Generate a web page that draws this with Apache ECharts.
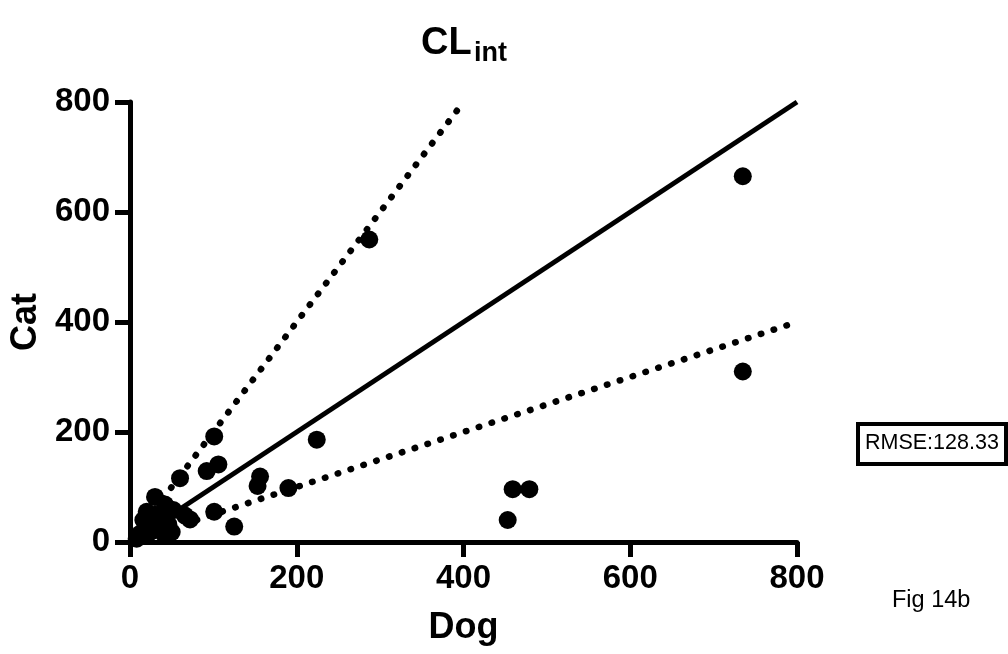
<!DOCTYPE html>
<html>
<head>
<meta charset="utf-8">
<script src="https://cdn.jsdelivr.net/npm/echarts@6/dist/echarts.min.js"></script>
<style>
html,body{margin:0;padding:0;background:#fff;}
#chart{width:1008px;height:654px;}
</style>
</head>
<body>
<div id="chart"></div>
<script>
const dogValues = [735, 735, 287, 224, 459, 479, 453, 190, 156, 153, 125, 101, 101, 106, 92, 60,
  30, 42, 20, 16, 36, 24, 12, 40, 50, 66, 72, 52, 8, 28, 46];
const catValues = [665, 310, 550, 186, 96, 96, 40, 98, 119, 102, 28, 55, 192, 141, 129, 116,
  82, 68, 55, 40, 46, 18, 15, 16, 18, 48, 41, 58, 6, 30, 32];
const xTicks = [0, 200, 400, 600, 800];
const yTicks = [0, 200, 400, 600, 800];
const upperLineDog = [20, 400];
const upperLineCat = [40, 800];
const midLineDog = [40, 800];
const midLineCat = [40, 800];
const lowerLineDog = [80, 800];
const lowerLineCat = [40, 400];
const titleMain = 'CL';
const titleSub = 'int';
const xName = 'Dog';
const yName = 'Cat';
const rmseText = 'RMSE:128.33';
const figText = 'Fig 14b';

const FONT = "'Liberation Sans', Arial, Helvetica, sans-serif";
const pairs = (xs, ys) => xs.map((x, i) => [x, ys[i]]);

const chart = echarts.init(document.getElementById('chart'), null, {renderer: 'canvas'});
const axisCommon = {
  type: 'value', min: xTicks[0], max: xTicks[xTicks.length - 1], interval: xTicks[1] - xTicks[0],
  axisLine: {show: true, lineStyle: {color: '#000', width: 5}},
  axisTick: {show: true, length: 15, lineStyle: {color: '#000', width: 5}},
  splitLine: {show: false},
  axisLabel: {color: '#000', fontSize: 33, fontWeight: 'bold', fontFamily: FONT},
  nameTextStyle: {color: '#000', fontSize: 36, fontWeight: 'bold', fontFamily: FONT}
};
const dotted = {color: '#000', width: 6.5, type: [0.5, 13], cap: 'round'};
chart.setOption({
  animation: false,
  backgroundColor: '#fff',
  title: [
    {text: titleMain, left: 416, top: 20, textStyle: {fontSize: 38, fontWeight: 'bold', color: '#000', fontFamily: FONT}},
    {text: titleSub, left: 469, top: 35, textStyle: {fontSize: 27, fontWeight: 'bold', color: '#000', fontFamily: FONT}}
  ],
  grid: {left: 130, right: 211, top: 102, bottom: 112, containLabel: false},
  xAxis: Object.assign({}, axisCommon, {
    name: xName, nameLocation: 'middle', nameGap: 68,
    axisLabel: Object.assign({}, axisCommon.axisLabel, {margin: 20})
  }),
  yAxis: Object.assign({}, axisCommon, {
    min: yTicks[0], max: yTicks[yTicks.length - 1], interval: yTicks[1] - yTicks[0],
    name: yName, nameLocation: 'middle', nameGap: 80, nameRotate: 90,
    axisLabel: Object.assign({}, axisCommon.axisLabel, {margin: 20})
  }),
  series: [
    {type: 'line', data: pairs(upperLineDog, upperLineCat), symbol: 'none', lineStyle: dotted, z: 2},
    {type: 'line', data: pairs(midLineDog, midLineCat), symbol: 'none', lineStyle: {color: '#000', width: 5}, z: 2},
    {type: 'line', data: pairs(lowerLineDog, lowerLineCat), symbol: 'none', lineStyle: dotted, z: 2},
    {type: 'scatter', data: pairs(dogValues, catValues), symbol: 'circle', symbolSize: 18,
     itemStyle: {color: '#000', opacity: 1}, z: 3}
  ],
  graphic: [
    {type: 'rect', left: 856, top: 422, shape: {width: 148, height: 40},
     style: {fill: '#fff', stroke: '#000', lineWidth: 4}},
    {type: 'text', left: 865, top: 432, style: {text: rmseText, fontSize: 21.5, fontFamily: FONT, fill: '#000'}},
    {type: 'text', left: 892, top: 589, style: {text: figText, fontSize: 23.5, fontFamily: FONT, fill: '#000'}}
  ]
});
</script>
</body>
</html>
